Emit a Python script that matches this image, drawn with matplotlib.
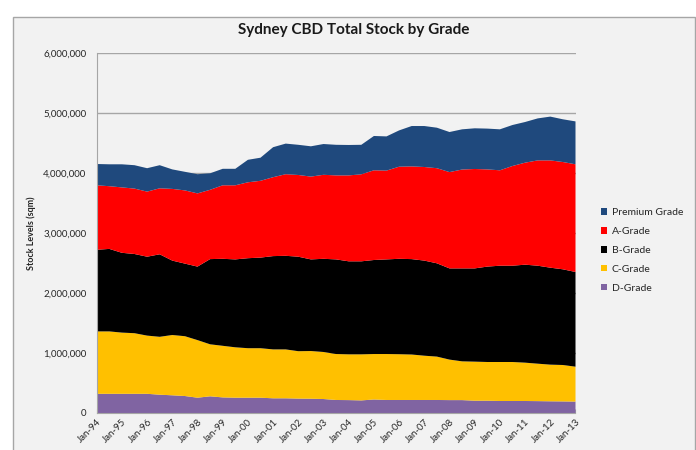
import matplotlib
matplotlib.use("Agg")
import matplotlib.pyplot as plt
from matplotlib.patches import Patch, Rectangle
from matplotlib.ticker import FuncFormatter
import numpy as np

plt.rcParams["font.family"] = ["Lato", "DejaVu Sans"]

# semi-annual observations, Jan-94 .. Jan-13 (thousand sqm)
periods = np.arange(1994.0, 2013.01, 0.5)
d_grade = [320, 320, 320, 320, 320, 305, 295, 283, 255, 278, 260, 255, 255,
           255, 245, 245, 240, 238, 233, 217, 215, 210, 225, 217, 217, 217,
           217, 217, 215, 215, 205, 205, 200, 200, 200, 198, 195, 193, 190]
c_grade = [1040, 1040, 1020, 1010, 970, 965, 1005, 997, 960, 867, 860, 840,
           825, 825, 815, 815, 790, 795, 784, 766, 763, 768, 758, 766, 763,
           758, 738, 723, 675, 646, 651, 645, 650, 650, 639, 624, 611, 607, 582]
b_grade = [1360, 1375, 1330, 1320, 1315, 1375, 1240, 1210, 1225, 1420, 1450,
           1465, 1500, 1510, 1555, 1560, 1575, 1527, 1553, 1577, 1550, 1550,
           1567, 1577, 1590, 1590, 1585, 1555, 1520, 1549, 1554, 1590, 1605,
           1605, 1633, 1633, 1616, 1595, 1578]
a_grade = [1075, 1045, 1090, 1090, 1085, 1100, 1195, 1220, 1220, 1155, 1225,
           1235, 1265, 1280, 1315, 1360, 1362, 1380, 1400, 1400, 1432, 1450,
           1495, 1480, 1535, 1545, 1560, 1585, 1605, 1648, 1657, 1620, 1590,
           1662, 1700, 1755, 1788, 1788, 1795]
premium = [355, 365, 385, 390, 390, 385, 325, 310, 320, 275, 275, 275, 375,
           385, 500, 510, 503, 505, 513, 510, 507, 492, 572, 570, 605, 673,
           683, 675, 668, 670, 678, 680, 683, 683, 678, 700, 730, 712, 715]

labels = ["D-Grade", "C-Grade", "B-Grade", "A-Grade", "Premium Grade"]
colors = ["#8064A2", "#FFC000", "#000000", "#FF0000", "#1F497D"]
years = list(range(1994, 2014))
year_labels = [f"Jan-{y % 100:02d}" for y in years]

bg = "#F2F2F2"
fig = plt.figure(figsize=(6.96, 4.5), dpi=100, facecolor="white")
fig.patches.append(Rectangle((13 / 696, -0.05), 682 / 696, 1.05 - 17 / 450,
                             transform=fig.transFigure, facecolor=bg,
                             edgecolor="#A6A6A6", lw=1.0, zorder=-10))

ax = fig.add_axes([96.7 / 696, 1 - 413 / 450, 478.8 / 696, 360 / 450])
ax.set_facecolor(bg)

series = [np.array(s) * 1000 for s in (d_grade, c_grade, b_grade, a_grade, premium)]
ax.stackplot(periods, *series, labels=labels, colors=colors, lw=0, zorder=3)

ax.set_xlim(1994, 2013)
ax.set_ylim(0, 6000000)
ax.set_yticks(np.arange(0, 6000001, 1000000))
ax.yaxis.set_major_formatter(FuncFormatter(lambda v, p: f"{int(v):,}"))
ax.set_xticks(years)
ax.set_xticklabels(year_labels, rotation=45, ha="right", rotation_mode="anchor")
ax.grid(axis="y", color="#A6A6A6", lw=1.0, zorder=0)
ax.set_axisbelow(True)
for side in ("top", "right"):
    ax.spines[side].set_visible(False)
for side in ("left", "bottom"):
    ax.spines[side].set_color("#A6A6A6")
    ax.spines[side].set_zorder(5)
ax.tick_params(axis="x", direction="in", length=3, color="#A6A6A6",
               labelsize=7, pad=3, labelcolor="#262626")
ax.tick_params(axis="y", length=0, labelsize=7, pad=7.5, labelcolor="#262626")

ax.set_ylabel("Stock Levels (sqm)", fontsize=6.5, fontweight="bold",
              labelpad=5, color="#262626")
fig.text(354 / 696, 1 - 30 / 450, "Sydney CBD Total Stock by Grade",
         ha="center", va="center", fontsize=11, fontweight="bold", color="#1a1a1a")

handles = [Patch(facecolor=c, label=l) for c, l in zip(colors, labels)][::-1]
fig.legend(handles=handles, loc="upper left",
           bbox_to_anchor=(597 / 696, 1 - 204 / 450), frameon=False,
           fontsize=7.5, handlelength=0.6, handleheight=0.6, handletextpad=0.4,
           labelspacing=0.95, borderaxespad=0, labelcolor="#262626")

fig.savefig("out.png", dpi=100, facecolor="white")
